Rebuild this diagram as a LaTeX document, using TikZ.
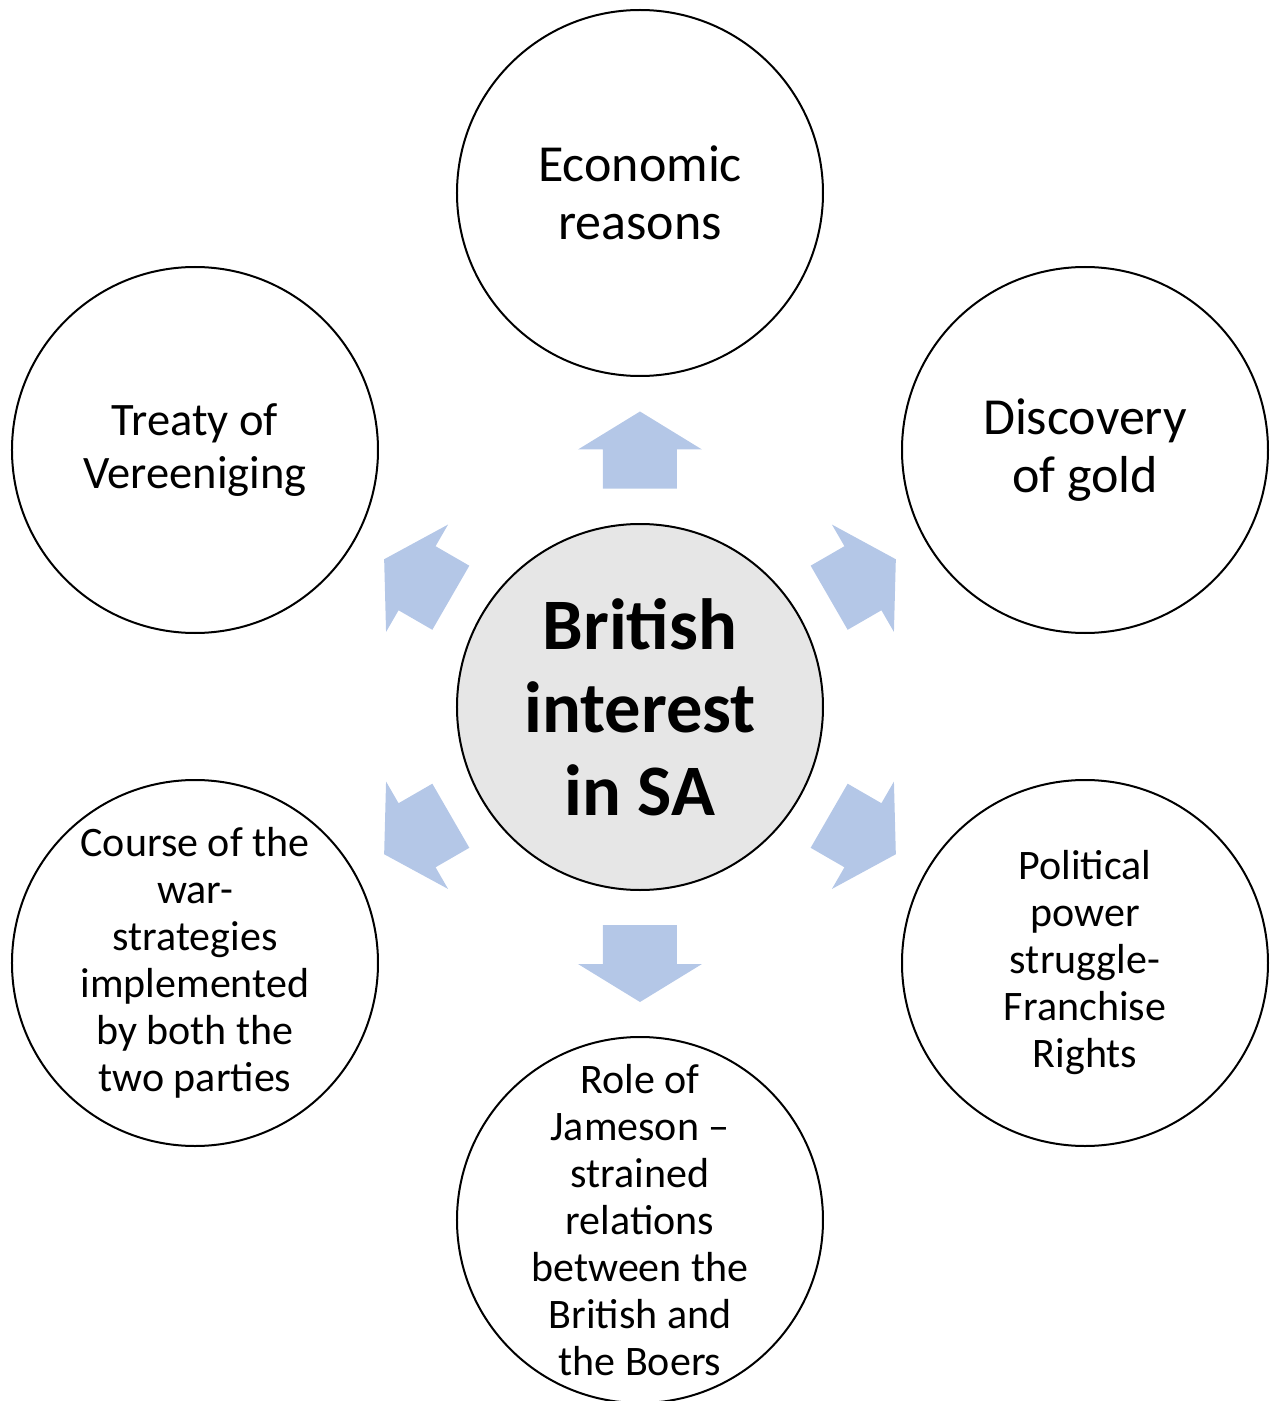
\documentclass[tikz,border=0pt]{standalone}
\usepackage{fontspec}
\setmainfont{Carlito}
\usetikzlibrary{calc}
\definecolor{arrowblue}{HTML}{B4C7E7}
\definecolor{hubgray}{HTML}{E6E6E6}

\begin{document}
\begin{tikzpicture}[x=1pt,y=1pt,
    topic/.style={circle,draw,line width=2pt,minimum size=366pt,inner sep=0pt,align=center},
    bigtext/.style={font=\fontsize{52}{58}\selectfont},
    midtext/.style={font=\fontsize{46.5}{52.5}\selectfont},
    smalltext/.style={font=\fontsize{42}{47}\selectfont},
    blockarrow/.pic={
      \fill[arrowblue] (-38.5,-37) -- (0.5,-37) -- (0.5,-62) -- (38.5,0)
        -- (0.5,62) -- (0.5,37) -- (-38.5,37) -- cycle;
    }]
  \useasboundingbox (-640,-694) rectangle (633,707);
  \begin{scope}[every node/.style={topic}]
    \node[fill=hubgray,font=\fontsize{72.5}{83}\selectfont\bfseries] (hub) at (0,0) {British\\interest\\in SA};
    \node[bigtext] (econ) at (0,514) {Economic\\reasons};
    \node[bigtext] (gold) at (445,257) {Discovery\\of gold};
    \node[smalltext] (power) at (445,-256) {Political\\power\\struggle-\\Franchise\\Rights};
    \node[label={[smalltext,align=center,circle=false]center:Role of\\Jameson --\\strained\\relations\\between the\\British and\\the Boers}] (jameson) at (0,-513) {};
    \node[smalltext] (war) at (-445,-256) {Course of the\\war-\\strategies\\implemented\\by both the\\two parties};
    \node[midtext] (treaty) at (-445,257) {Treaty of\\Vereeniging};
  \end{scope}
  % arrows from the hub out to each topic
  \pic[rotate=90] at ($(hub)!0.5!(econ)$) {blockarrow};
  \pic[rotate=30] at ($(hub)!0.5!(gold)$) {blockarrow};
  \pic[rotate=-30] at ($(hub)!0.5!(power)$) {blockarrow};
  \pic[rotate=-90] at ($(hub)!0.5!(jameson)$) {blockarrow};
  \pic[rotate=210] at ($(hub)!0.5!(war)$) {blockarrow};
  \pic[rotate=150] at ($(hub)!0.5!(treaty)$) {blockarrow};
\end{tikzpicture}
\end{document}
